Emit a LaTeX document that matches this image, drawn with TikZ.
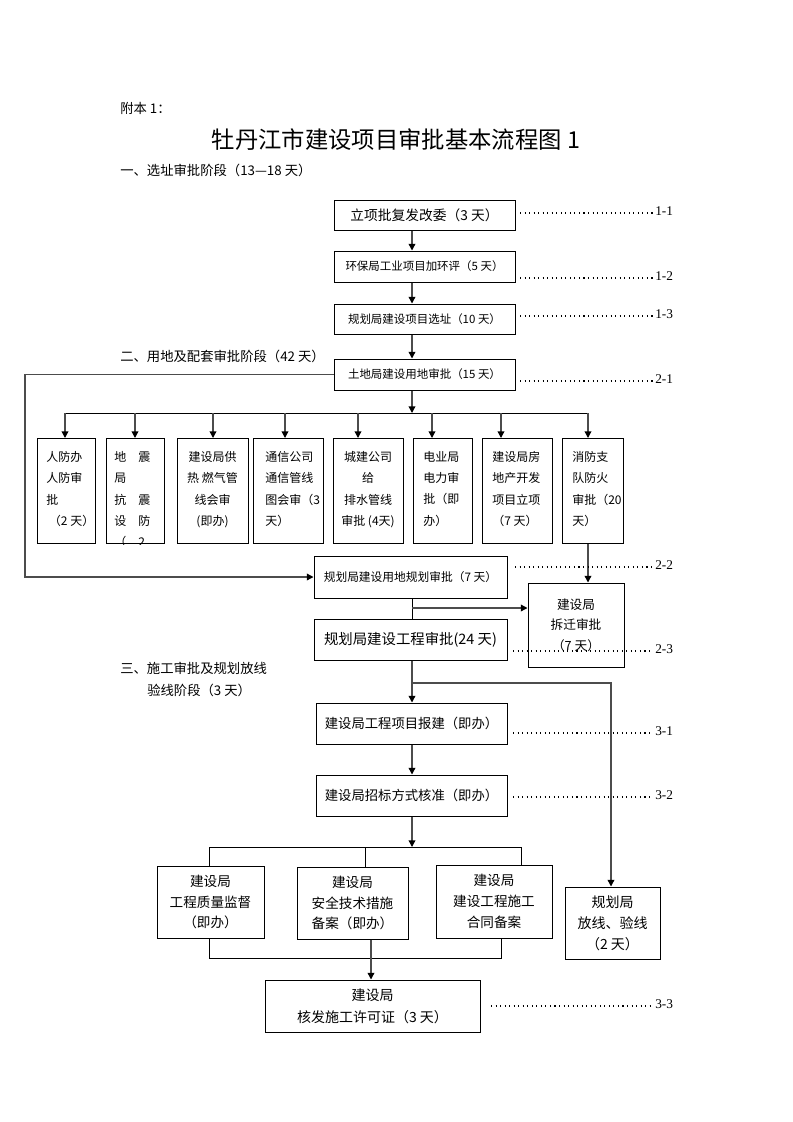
\documentclass[tikz,border=0pt]{standalone}
\usepackage{fontspec}
\setmainfont{Liberation Serif}
\newfontfamily\cjk{Noto Sans CJK SC}
\usepackage{tikz}
\usetikzlibrary{arrows.meta,positioning}

\tikzset{
    box/.style={draw, line width=0.75pt, inner sep=0pt, align=center},
    wh/.style 2 args={minimum width=#1*0.75pt, minimum height=#2*0.75pt},
    arr/.style={draw=black!70, line width=1pt, -{Triangle[length=5pt,width=5pt,color=black]}},
    link/.style={line width=0.75pt},
    dots/.style={line width=0.9pt, dash pattern=on 0.8pt off 2.6pt},
    head/.style={anchor=west, inner sep=0pt, font=\cjk\fontsize{10}{12}\selectfont},
}

\begin{document}
\begin{tikzpicture}[x=0.75pt,y=-0.75pt]

\def\px{0.75pt}
\useasboundingbox (0,0) rectangle (793,1122);

\newcommand\tagline[4]
{
    \coordinate (#1s) at (#2,#3);
    \coordinate (#1e) at (653,#3);
    \draw[dots] (#1s) -- (#1e);
    \node[anchor=base west, inner sep=0pt, font=\fontsize{10}{12}\selectfont] (#1) at ([xshift=1.5pt,yshift=-2pt]#1e) {#4};
}

% headings
\node[head] (fuben) at (120,108) {附本 1：};
\node[inner sep=0pt, font=\cjk\fontsize{17.5}{20}\selectfont] (title) at (396,140) {牡丹江市建设项目审批基本流程图 1};
\node[head] (stage1) at (120,170) {一、选址审批阶段（13—18 天）};
\node[head] (stage2) at (120,356) {二、用地及配套审批阶段（42 天）};
\node[head] (stage3) at (120,668) {三、施工审批及规划放线};
\node[head] (stage3b) at (147,690) {验线阶段（3 天）};

% main column
\coordinate (col) at (412,0);
\node[box, wh={181}{30}, font=\cjk\fontsize{10.3}{12}\selectfont] (lixiang) at (424.5,215) {立项批复发改委（3 天）};
\node[box, wh={181}{31}, font=\cjk\fontsize{8.6}{12}\selectfont] (huanping) at (424.5,266.5) {环保局工业项目加环评（5 天）};
\node[box, wh={181}{30}, font=\cjk\fontsize{8.6}{12}\selectfont] (xuanzhi) at (424.5,319) {规划局建设项目选址（10 天）};
\node[box, wh={181}{31}, font=\cjk\fontsize{8.6}{12}\selectfont] (yongdi) at (424.5,374.5) {土地局建设用地审批（15 天）};

\draw[arr] (col |- lixiang.south) -- (col |- huanping.north);
\draw[arr] (col |- huanping.south) -- (col |- xuanzhi.north);
\draw[arr] (col |- xuanzhi.south) -- (col |- yongdi.north);

\tagline{tag11}{520}{213}{1-1}
\tagline{tag12}{520}{278}{1-2}
\tagline{tag13}{520}{316}{1-3}
\tagline{tag21}{520}{381}{2-1}

% branch to the eight offices
\coordinate (bus1) at (412,413);
\coordinate (bus1w) at (65,413);
\coordinate (bus1e) at (588,413);
\draw[link] (bus1w) -- (bus1e);
\draw[arr] (col |- yongdi.south) -- (bus1);

\foreach \i/\l/\r/\a/\tx/\anc/\al/\t in {
    1/37/95/65/46/north west/left/{人防办\\人防审\\批\\\ （2 天）},
    2/106/164/135/114/north west/left/{地　震\\局\\抗　震\\设　防\\（　2},
    3/177/248/213/212.5/north/center/{建设局供\\热 燃气管\\线会审\\(即办)},
    4/253/323/285/265/north west/left/{通信公司\\通信管线\\图会审（3\\天）},
    5/333/403/358/368/north/center/{城建公司\\给\\排水管线\\审批 (4天)},
    6/413/472/432/423/north west/left/{电业局\\电力审\\批（即\\办）},
    7/482/552/501/492/north west/left/{建设局房\\地产开发\\项目立项\\（7 天）},
    8/562/623/588/572/north west/left/{消防支\\队防火\\审批（20\\天）}}
{
    \node[box, anchor=north west, minimum width={(\r-\l)*\px}, minimum height=105*\px] (p\i) at (\l,438) {};
    \coordinate (t\i) at (\a,413);
    \draw[arr] (t\i) -- (t\i |- p\i.north);
    \begin{scope}
        \clip (p\i.north west) rectangle (p\i.south east);
        \node[anchor=\anc, align=\al, inner sep=0pt, font=\cjk\fontsize{9}{16}\selectfont] at (\tx,451) {\t};
    \end{scope}
}

% land use planning, demolition, project planning
\coordinate (loop) at (25,0);
\node[box, wh={193}{42}, font=\cjk\fontsize{8.8}{12}\selectfont] (ydgh) at (410.5,577) {规划局建设用地规划审批（7 天）};
\node[box, wh={193}{41}, font=\cjk\fontsize{10.8}{12}\selectfont] (gcsp) at (410.5,639.5) {规划局建设工程审批(24 天)};
\node[box, wh={96}{84}, font=\cjk\fontsize{9.5}{15.4}\selectfont] (chaiqian) at (576,625) {建设局\\拆迁审批\\（7 天）};

\draw[arr] (yongdi.west) -- (yongdi.west -| loop) -- (loop |- ydgh.west) -- (ydgh.west);
\draw[arr] (t8 |- p8.south) -- (t8 |- chaiqian.north);
\draw[link] (col |- ydgh.south) -- (col |- gcsp.north);
\coordinate (j22) at (412,608);
\draw[arr] (j22) -- (j22 -| chaiqian.west);

\tagline{tag22}{515}{567}{2-2}
\tagline{tag23}{513}{651}{2-3}

% stage three
\node[box, wh={191}{41}, font=\cjk\fontsize{10}{12}\selectfont] (baojian) at (411.5,723.5) {建设局工程项目报建（即办）};
\node[box, wh={191}{41}, font=\cjk\fontsize{10}{12}\selectfont] (zhaobiao) at (411.5,795.5) {建设局招标方式核准（即办）};

\draw[arr] (col |- gcsp.south) -- (col |- baojian.north);
\draw[arr] (col |- baojian.south) -- (col |- zhaobiao.north);

\node[box, wh={107}{72}, font=\cjk\fontsize{10.2}{15.6}\selectfont] (zljd) at (210.5,902) {建设局\\工程质量监督\\（即办）};
\node[box, wh={111}{72}, font=\cjk\fontsize{10.2}{15.6}\selectfont] (aqcs) at (352.5,903) {建设局\\安全技术措施\\备案（即办）};
\node[box, wh={116}{73}, font=\cjk\fontsize{10.2}{15.6}\selectfont] (htba) at (494,901.5) {建设局\\建设工程施工\\合同备案};
\node[box, wh={95}{72}, font=\cjk\fontsize{10.5}{15.8}\selectfont] (fxyx) at (612.5,923) {规划局\\放线、验线\\（2 天）};
\node[box, wh={215}{52}, font=\cjk\fontsize{10.5}{16.5}\selectfont] (xkz) at (372.5,1006) {建设局\\核发施工许可证（3 天）};

\coordinate (j23) at (412,683);
\coordinate (fx) at (611,0);
\draw[arr] (j23) -| (fx |- fxyx.north);

\coordinate (bus3) at (412,847);
\coordinate (b3w) at (209,847);
\coordinate (b3m) at (365,847);
\coordinate (b3e) at (521,847);
\draw[arr] (col |- zhaobiao.south) -- (bus3);
\draw[link] (b3w |- zljd.north) -- (b3w) -- (b3e) -- (b3e |- htba.north);
\draw[link] (b3m) -- (b3m |- aqcs.north);

\coordinate (b4w) at (209,958);
\coordinate (b4e) at (501,958);
\coordinate (b4m) at (371,0);
\draw[link] (b4w |- zljd.south) -- (b4w) -- (b4e) -- (b4e |- htba.south);
\draw[arr] (b4m |- aqcs.south) -- (b4m |- xkz.north);

\tagline{tag31}{513}{733}{3-1}
\tagline{tag32}{513}{797}{3-2}
\tagline{tag33}{491}{1006}{3-3}

\end{tikzpicture}
\end{document}
